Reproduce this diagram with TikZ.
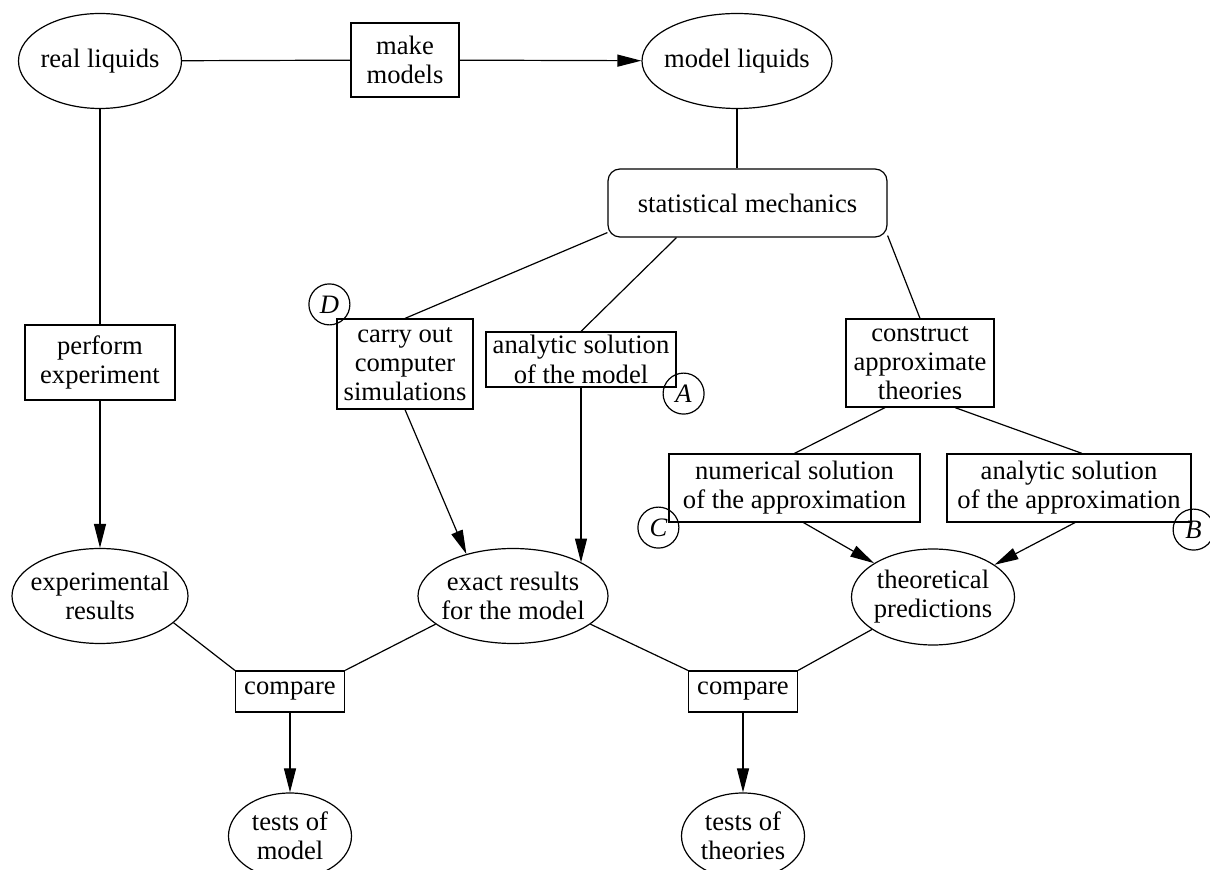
\documentclass[tikz,border=0pt]{standalone}
\usepackage{fontspec}
\setmainfont{Liberation Serif}
\usetikzlibrary{shapes.geometric,arrows.meta}
\begin{document}
\begin{tikzpicture}[x=0.5pt,y=-0.5pt,line width=0.6pt,
    font=\fontsize{13.3}{14.6}\selectfont,
    res/.style={draw,ellipse,align=center,inner xsep=-12pt,inner ysep=-8pt},
    proc/.style={draw,rectangle,align=center,inner xsep=2pt,inner ysep=1pt},
    letter/.style={draw,circle,inner sep=0pt,minimum size=20.5pt,
      font=\fontsize{13.3}{14.6}\selectfont\itshape},
    arr/.style={-{Triangle[length=12pt,width=6pt]}}]
        \useasboundingbox (0,0) rectangle (1210,870);

        \node[res,minimum width=81.5pt,minimum height=47.5pt] (real) at (100,61) {real liquids};
        \node[proc,minimum width=54pt,minimum height=37pt] (make) at (405,60) {make\\models};
        \node[res,minimum width=95pt,minimum height=47.5pt] (model) at (737,61) {model liquids};
        \node[proc,rounded corners=6pt,minimum width=139.5pt,minimum height=34pt] (stat) at (747.5,203) {statistical mechanics};

        \node[proc,minimum width=75pt,minimum height=37.5pt] (perf) at (100,362.5) {perform\\experiment};
        \node[proc,minimum width=68pt,minimum height=45pt] (carry) at (405,364) {carry out\\computer\\simulations};
        \node[proc,minimum width=95pt,minimum height=27.5pt] (anmod) at (581,359.5) {analytic solution\\of the model};
        \node[proc,minimum width=74pt,minimum height=44pt] (constr) at (920,363) {construct\\approximate\\theories};
        \node[proc,minimum width=125.5pt,minimum height=34pt] (numap) at (794.5,488) {numerical solution\\of the approximation};
        \node[proc,minimum width=122pt,minimum height=34pt] (anap) at (1069,488) {analytic solution\\of the approximation};

        \node[res,minimum width=88pt,minimum height=47.5pt] (exper) at (100,596) {experimental\\results};
        \node[res,minimum width=95pt,minimum height=47.5pt] (exact) at (513,596) {exact results\\for the model};
        \node[res,minimum width=81.5pt,minimum height=48pt] (theo) at (933,597) {theoretical\\predictions};

        \node[proc,minimum width=54.5pt,minimum height=20.5pt] (cmpa) at (290,691.5) {compare};
        \node[proc,minimum width=54.5pt,minimum height=20.5pt] (cmpb) at (743,691.5) {compare};
        \node[res,minimum width=61.5pt,minimum height=43pt] (testm) at (290,836) {tests of\\model};
        \node[res,minimum width=61.5pt,minimum height=43pt] (testt) at (743,836) {tests of\\theories};

        \node[letter] (D) at ([shift={(-7,-14)}]carry.north west) {D};
        \node[letter] (A) at ([shift={(7,6)}]anmod.south east) {A};
        \node[letter] (C) at ([shift={(-10,5)}]numap.south west) {C};
        \node[letter] (B) at ([shift={(2,7)}]anap.south east) {B};

        \draw (real) -- (make);
        \draw[arr] (make) -- (model);
        \draw (real) -- (perf);
        \draw[arr] (perf) -- (exper);
        \draw (model) -- (model |- stat.north);
        \draw ([yshift=2.5pt]stat.south west) -- (carry.north);
        \draw ([xshift=-35.5pt]stat.south) -- (anmod.north);
        \draw ([yshift=1pt]stat.south east) -- (constr.north);
        \draw[arr] (carry.south) -- (exact.138);
        \draw[arr] (anmod) -- (anmod |- exact.26);
        \draw ([xshift=-17.5pt]constr.south) -- (numap.north);
        \draw ([xshift=17.5pt]constr.south) -- ([xshift=6.5pt]anap.north);
        \draw[arr] ([xshift=4.5pt]numap.south) -- (theo);
        \draw[arr] ([xshift=3pt]anap.south) -- (theo);
        \draw (exper.-20) -- (cmpa.north west);
        \draw (exact.200) -- (cmpa.north east);
        \draw (exact.-20) -- (cmpb.north west);
        \draw (theo.208) -- (cmpb.north east);
        \draw[arr] (cmpa) -- (testm);
        \draw[arr] (cmpb) -- (testt);
      \end{tikzpicture}
\end{document}
